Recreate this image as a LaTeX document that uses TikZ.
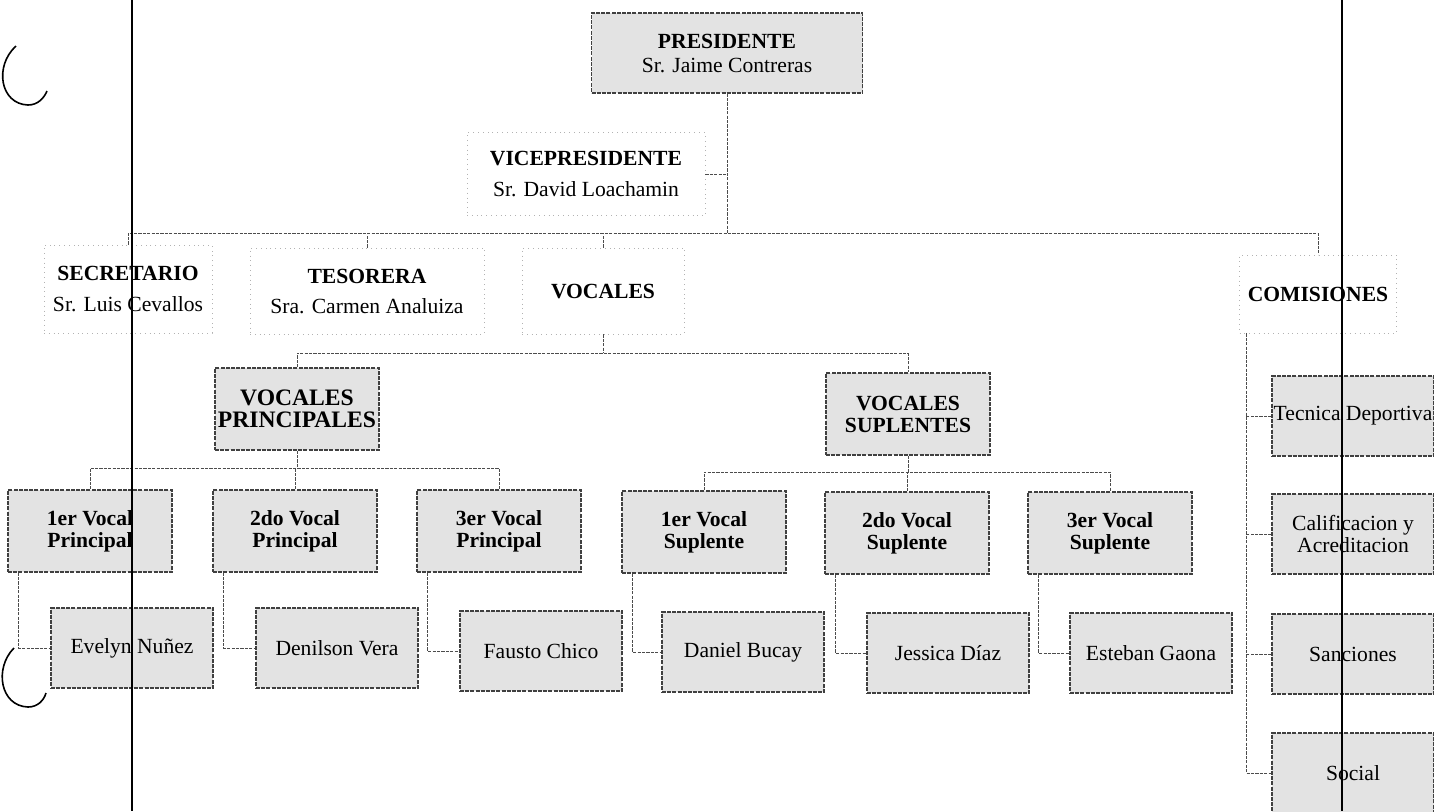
\documentclass[tikz,border=0pt]{standalone}
\usepackage{fontspec}
\setmainfont{Liberation Serif}

\begin{document}
\begin{tikzpicture}[x=0.5pt,y=-0.5pt]
  \tikzstyle{cargo}  = [align=center,inner sep=0pt,draw=black!30,dotted,font=\fontsize{10.8}{11}\selectfont]
  \tikzstyle{cargoV} = [align=center,inner sep=0pt,draw=black!75,dash pattern=on 2pt off 0.6pt,line width=0.6pt,fill=black!11,font=\fontsize{10.8}{11}\selectfont]
  \tikzstyle{vocal}  = [cargoV,minimum width=82pt,minimum height=41pt]
  \tikzstyle{nombre} = [cargoV,minimum width=81pt,minimum height=40pt]
  \tikzstyle{link}   = [draw=black!70,line width=0.5pt,dash pattern=on 1.6pt off 0.6pt]
  \tikzstyle{scan}   = [draw=black,line width=1.1pt]
  \useasboundingbox (0,0) rectangle (1434,811);
  % Directiva
  \path (727,53)   node[cargoV,minimum width=135.5pt,minimum height=40pt](pres) {\textbf{PRESIDENTE}\\[1pt]Sr. Jaime Contreras};
  \path (586,174)  node[cargo,minimum width=119pt,minimum height=41.5pt](vice) {\textbf{VICEPRESIDENTE}\\[4.5pt]Sr. David Loachamin};
  \path (128,289)  node[cargo,minimum width=84pt,minimum height=44pt](secr) {\textbf{SECRETARIO}\\[4.5pt]Sr. Luis Cevallos};
  \path (367,291)  node[cargo,minimum width=117pt,minimum height=43pt](teso) {\textbf{TESORERA}\\[4pt]Sra. Carmen Analuiza};
  \path (603,291)  node[cargo,minimum width=81pt,minimum height=43pt](voc) {\textbf{VOCALES}};
  \path (1318,294) node[cargo,minimum width=78.5pt,minimum height=39pt](comis) {\textbf{COMISIONES}};
  % Vocales
  \path (297,409)  node[vocal,font=\fontsize{11.8}{11.2}\selectfont](vp) {\textbf{VOCALES}\\\textbf{PRINCIPALES}};
  \path (908,414)  node[vocal](vs) {\textbf{VOCALES}\\\textbf{SUPLENTES}};
  \path (90,531)   node[vocal](p1) {\textbf{1er Vocal}\\\textbf{Principal}};
  \path (295,531)  node[vocal](p2) {\textbf{2do Vocal}\\\textbf{Principal}};
  \path (499,531)  node[vocal](p3) {\textbf{3er Vocal}\\\textbf{Principal}};
  \path (704,532)  node[vocal](s1) {\textbf{1er Vocal}\\\textbf{Suplente}};
  \path (907,533)  node[vocal](s2) {\textbf{2do Vocal}\\\textbf{Suplente}};
  \path (1110,533) node[vocal](s3) {\textbf{3er Vocal}\\\textbf{Suplente}};
  \path (132,648)  node[nombre](n1) {Evelyn Nuñez};
  \path (337,648)  node[nombre](n2) {Denilson Vera};
  \path (541,651)  node[nombre](n3) {Fausto Chico};
  \path (743,652)  node[nombre](n4) {Daniel Bucay};
  \path (948,653)  node[nombre](n5) {Jessica Díaz};
  \path (1151,653) node[nombre](n6) {Esteban Gaona};
  % Comisiones
  \path (1353,416) node[nombre](c1) {Tecnica Deportiva};
  \path (1353,534) node[nombre](c2) {Calificacion y\\Acreditacion};
  \path (1353,654) node[nombre](c3) {Sanciones};
  \path (1353,773) node[nombre](c4) {Social};
  % Lineas
  \coordinate (bus)  at (0,233);
  \coordinate (vbus) at (0,353);
  \coordinate (pbus) at (0,468);
  \coordinate (sbus) at (0,472);
  \coordinate (trunk) at ([xshift=3.5pt]comis.south west);
  \draw[link] (pres.south) -- (pres.south |- bus);
  \draw[link] (vice.east) -- (vice.east -| pres.south);
  \draw[link] (secr.north) -- (secr.north |- bus) -| (comis.north);
  \draw[link] (teso.north) -- (teso.north |- bus);
  \draw[link] (voc.north) -- (voc.north |- bus);
  \draw[link] (voc.south) -- (voc.south |- vbus);
  \draw[link] (vp.north) |- (vbus -| vs.north) -- (vs.north);
  \draw[link] (vp.south) -- (vp.south |- pbus);
  \draw[link] (p1.north) |- (pbus -| p3.north) -- (p3.north);
  \draw[link] (p2.north) -- (p2.north |- pbus);
  \draw[link] (vs.south) -- (vs.south |- sbus);
  \draw[link] (s1.north) |- (sbus -| s3.north) -- (s3.north);
  \draw[link] (s2.north) -- (s2.north |- sbus);
  \draw[link] ([xshift=5.5pt]p1.south west) |- (n1.west);
  \draw[link] ([xshift=5.5pt]p2.south west) |- (n2.west);
  \draw[link] ([xshift=5.5pt]p3.south west) |- (n3.west);
  \draw[link] ([xshift=5.5pt]s1.south west) |- (n4.west);
  \draw[link] ([xshift=5.5pt]s2.south west) |- (n5.west);
  \draw[link] ([xshift=5.5pt]s3.south west) |- (n6.west);
  \draw[link] (trunk) |- (c4.west);
  \draw[link] (c1.west) -- (c1.west -| trunk);
  \draw[link] (c2.west) -- (c2.west -| trunk);
  \draw[link] (c3.west) -- (c3.west -| trunk);
  % bordes del escaneo
  \draw[scan] (132,0) -- (132,811);
  \draw[scan] (1342,0) -- (1342,811);
  \draw[black,line width=0.8pt] (16,46) .. controls (-6,66) and (0,104) .. (28,105) .. controls (38,105) and (44,98) .. (47,91);
  \draw[black,line width=0.8pt] (14,648) .. controls (-6,668) and (0,706) .. (28,707) .. controls (38,707) and (44,700) .. (46,693);
\end{tikzpicture}
\end{document}
